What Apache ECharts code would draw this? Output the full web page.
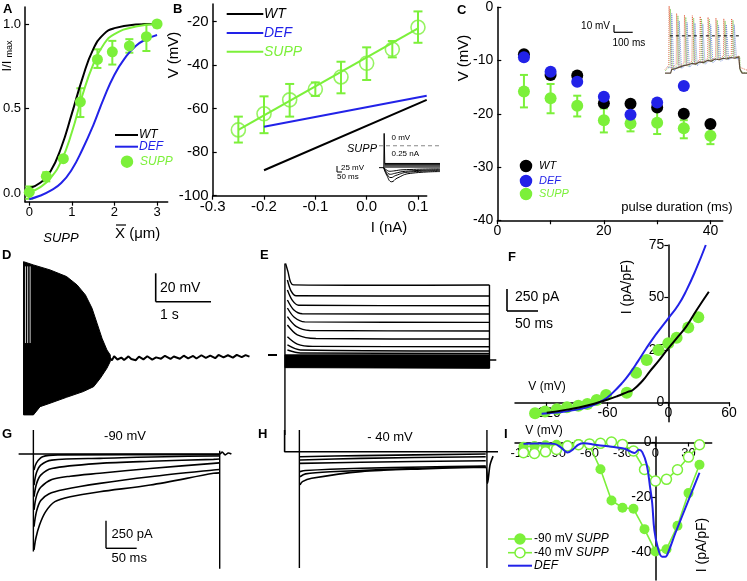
<!DOCTYPE html>
<html><head><meta charset="utf-8">
<script src="https://cdn.jsdelivr.net/npm/echarts@6/dist/echarts.min.js"></script>
<style>html,body{margin:0;padding:0;background:#fff}#c{width:747px;height:581px}</style>
</head><body><div id="c"></div>
<script>
const FONT = '"Liberation Sans", Arial, Helvetica, sans-serif';
const GREEN = '#7cf03a', BLUE = '#2222e8', BLACK = '#000';

// ---------- Panel A ----------
const aWT = [[0,0.03],[0.25,0.06],[0.5,0.13],[0.75,0.27],[1.0,0.47],[1.25,0.68],[1.5,0.85],[1.75,0.94],[2.0,0.975],[2.5,0.996],[3.0,1.0]];
const aDEF = [[0,-0.035],[0.25,-0.015],[0.5,0.015],[0.75,0.06],[1.0,0.14],[1.25,0.26],[1.5,0.40],[1.75,0.56],[2.0,0.70],[2.25,0.80],[2.5,0.87],[2.75,0.91],[3.0,0.935]];
const aSUPPfit = [[0,0.005],[0.25,0.035],[0.5,0.09],[0.75,0.19],[1.0,0.36],[1.25,0.58],[1.5,0.76],[1.75,0.88],[2.0,0.94],[2.5,0.985],[3.0,1.0]];
const aSUPPx = [0,0.4,0.8,1.2,1.6,1.95,2.35,2.75,3.0];
const aSUPPy = [0.006,0.1,0.204,0.54,0.79,0.835,0.87,0.925,1.0];
const aSUPPlo = [-0.033,0.07,0.19,0.45,0.74,0.76,0.83,0.84,0.98];
const aSUPPhi = [0.04,0.124,0.22,0.62,0.85,0.9,0.91,1.0,1.0];
const aXTicks = [0,1,2,3];

// ---------- Panel B ----------
const bI = [-0.25,-0.2,-0.15,-0.1,-0.05,0,0.05,0.1];
const bSUPP = [-69.8,-62.4,-56,-51.1,-45.5,-39.2,-32.8,-22.7];
const bSUPPlo = [-75.6,-71.3,-63.7,-54.2,-53,-46.9,-36.5,-29.8];
const bSUPPhi = [-63.7,-54.4,-48.7,-48,-38.5,-31.9,-29,-15.4];
const bWT = [[-0.2,-88.3],[0.117,-56]];
const bDEF = [[-0.2,-68.3],[0.117,-54.1]];
const bSUPPfit = [[-0.25,-69.8],[0.1,-23.2]];
const bXTicks = [-0.3,-0.2,-0.1,0,0.1];
const bYTicks = [-100,-80,-60,-40,-20];
// inset (ms, mV)
const biZero = [[0,0],[508,0]];
const biBase = [[0,-73],[40,-73]];
const biSpike = [[40,-73],[43,41],[45,41],[48,-58],[55,-60]];
const biDep1 = [[44,-59],[508,-59]];
const biDep2 = [[44,-63],[508,-63]];
const biDep3 = [[44,-67],[508,-67]];
const biDep4 = [[44,-71],[508,-71]];
const biHyp1 = [[40,-73],[60,-80],[90,-85],[120,-84],[200,-80],[508,-77]];
const biHyp2 = [[40,-73],[60,-86],[95,-95],[130,-92],[220,-85],[508,-80]];
const biHyp3 = [[40,-73],[62,-92],[100,-106],[140,-99],[240,-88],[508,-83]];
const biHyp4 = [[40,-73],[64,-98],[106,-120],[150,-108],[260,-92],[508,-86]];

// ---------- Panel C ----------
const cDur = [5,10,15,20,25,30,35,40];
const cWT = [-8.8,-12.7,-12.8,-18,-18.1,-18.8,-20,-21.9];
const cDEFx = [5,10,15,20,25,30,35];
const cDEF = [-9.4,-12.1,-14,-16.8,-20.2,-17.9,-14.8];
const cSUPP = [-15.8,-17.1,-18.5,-21.2,-21.8,-21.7,-22.7,-24.1];
const cSUPPlo = [-18.8,-19.9,-20.5,-23.5,-23.3,-23.8,-24.6,-25.7];
const cSUPPhi = [-12.7,-14.4,-16.6,-19,-20.2,-19,-21.2,-22.5];
const cXTicks = [0,20,40];
const cYTicks = [-40,-30,-20,-10,0];
// inset (ms, mV)
const ciRed = [[0,-45],[20,-40],[22,40],[34,-44],[60,-38],[62,30],[74,-42],[102,-36],[104,28],[116,-40],[144,-34],[146,27],[158,-38],[186,-32],[188,26],[200,-36],[228,-30],[230,25],[242,-34],[270,-28],[272,24],[284,-32],[312,-27],[314,23],[326,-30],[354,-26],[356,23],[368,-29],[396,-27],[398,-42],[438,-46]];
const ciGreen = [[0,-47],[27,-41],[29,36],[41,-46],[67,-39],[69,27],[81,-43],[109,-37],[111,25],[123,-41],[151,-35],[153,24],[165,-39],[193,-33],[195,23],[207,-37],[235,-31],[237,22],[249,-35],[277,-29],[279,21],[291,-33],[319,-28],[321,20],[333,-31],[361,-27],[363,21],[375,-30],[400,-28],[402,-48],[438,-50]];
const ciBlue = [[14,-42],[34,-43],[36,30],[48,-47],[74,-40],[76,20],[88,-44],[116,-38],[118,18],[130,-42],[158,-36],[160,17],[172,-40],[200,-34],[202,16],[214,-38],[242,-32],[244,15],[256,-36],[284,-30],[286,14],[298,-34],[326,-29],[328,15],[340,-32],[368,-28],[370,15],[382,-31],[396,-30]];
const ciDark = [[0,-50],[30,-50],[36,-45],[56,-44],[78,-42],[100,-40],[120,-39],[142,-37],[162,-38],[184,-35],[204,-36],[226,-33],[246,-34],[268,-31],[288,-32],[310,-30],[330,-31],[352,-29],[372,-30],[394,-28],[400,-44],[412,-50],[438,-50]];
const ciZero = [[26,0],[402,0]];

// ---------- Panel D (s, mV) ----------
const dUpper = [[0,17.3],[0.18,15],[0.48,11.5],[0.78,6.8],[0.97,0.9],[1.12,-6.1],[1.24,-15.5],[1.33,-26],[1.42,-36.6],[1.51,-44.9],[1.57,-48.4]];
const dLower = [[0,-90.6],[0.18,-90.6],[0.3,-84.8],[0.48,-82.4],[0.78,-78.2],[1.08,-74.2],[1.27,-70.7],[1.39,-64.8],[1.51,-57.7],[1.57,-53]];
const dGaps = [0.035, 0.075, 0.12];
const dBase = [[1.55,-50],[1.6,-52.2],[1.64,-49.3],[1.7,-51.6],[1.77,-50.2],[1.82,-52],[1.9,-49.4],[1.95,-51.3],[2.03,-52.1],[2.09,-49.6],[2.17,-51.5],[2.24,-49.3],[2.33,-51.7],[2.4,-50.1],[2.49,-51],[2.56,-49],[2.66,-51.2],[2.72,-49.5],[2.83,-51.1],[2.9,-48.9],[2.98,-50.8],[3.07,-49.1],[3.13,-50.9],[3.22,-48.6],[3.3,-50.4],[3.38,-48.8],[3.47,-50.7],[3.53,-48.4],[3.62,-50.1],[3.7,-48.6],[3.79,-50.3],[3.86,-48.3],[3.95,-49.9],[4.02,-48.5],[4.09,-49.6]];

// ---------- Panel E (ms, pA) ----------
const eTr1 = [[1,1090],[5,990],[9,870],[14,835],[150,830],[330,833]];
const eTr2 = [[4,893],[10,760],[18,705],[330,702]];
const eTr3 = [[4,774],[12,650],[22,592],[330,587]];
const eTr4 = [[4,655],[14,540],[28,492],[330,488]];
const eTr5 = [[4,560],[15,450],[32,395],[330,389]];
const eTr6 = [[4,456],[18,340],[40,292],[330,286]];
const eTr7 = [[4,357],[20,240],[50,196],[330,190]];
const eTr8 = [[4,218],[20,130],[45,103],[330,99]];
const eTr9 = [[4,120],[25,60],[330,48]];
const eTr10 = [[4,60],[25,25],[330,20]];
const eBandTop = [[0,2],[330,2]];
const eBandBot = [[0,-150],[330,-158]];
const eStart = [[0,1091],[0,-952]];
const eEnd = [[330,833],[330,-158]];
const eTail = [[330,-60],[341,-60]];

// ---------- Panel F (mV, pA/pF) ----------
const fDEF = [[-125,-5.5],[-113,-5],[-90,-3.5],[-75,-1.5],[-64,1],[-55,4.5],[-45,9.5],[-38,13.8],[-30,19.5],[-22,25.5],[-15,30.5],[-8,35],[0,40],[10,46.5],[18,53.5],[27,63],[37,75]];
const fWT = [[-120,-5],[-100,-3.5],[-80,-1.5],[-62,1],[-50,3],[-40,5],[-35,5.9],[-25,10.5],[-18,14.9],[-10,19.5],[0,25.7],[10,31.5],[18,36.3],[28,44],[40,52.7]];
const fSUPPv = [-131.5,-121.6,-110,-100,-88.8,-79.9,-70.7,-61.4,-41,-31.8,-21.3,-9.8,0,8.2,19.7,29.6];
const fSUPPi = [-5.2,-4.4,-3.3,-2.4,-1.6,-0.8,1.1,3.5,4.6,14.1,20.2,24.9,28.1,30.8,35.7,40.5];
const fXTicks = [-120,-60,0,60];
const fYTicks = [0,25,50,75];

// ---------- Panel G (ms, pA) ----------
const gBase = [[-24,0],[303,0],[307,18],[312,-8],[317,10],[322,0]];
const gTr1 = [[1,-144],[5,-80],[15,-25],[40,-8],[303,-5]];
const gTr2 = [[1,-280],[5,-170],[12,-100],[30,-55],[108,-39],[293,-18],[303,-18]];
const gTr3 = [[1,-385],[5,-270],[12,-190],[30,-130],[108,-84],[190,-65],[293,-48],[303,-45]];
const gTr4 = [[1,-505],[5,-380],[12,-300],[30,-230],[60,-200],[108,-174],[190,-130],[293,-84],[303,-80]];
const gTr5 = [[1,-656],[5,-520],[12,-420],[25,-360],[50,-320],[108,-265],[190,-205],[293,-144],[303,-140]];
const gTr6 = [[1,-866],[4,-760],[10,-640],[20,-520],[35,-430],[60,-385],[108,-340],[190,-280],[293,-174],[303,-170]];
const gStart = [[0,217],[0,-880]];
const gEnd = [[303,30],[303,-1035]];

// ---------- Panel H (ms, pA) ----------
const hProto = [[-24,196],[-24,0],[323,0]];
const hTr1 = [[1,-45],[100,-35],[303,-21]];
const hTr2 = [[1,-75],[100,-60],[303,-45]];
const hTr3 = [[1,-105],[100,-95],[303,-81]];
const hTr4 = [[1,-180],[10,-170],[100,-150],[200,-138],[303,-129]];
const hTr5 = [[1,-226],[10,-200],[50,-181],[200,-150],[303,-135]];
const hTr6 = [[1,-300],[5,-270],[20,-240],[100,-180],[200,-155],[303,-140],[306,-284],[310,-120],[315,-40]];
const hStart = [[0,196],[0,-1050]];
const hEnd = [[305,196],[305,-1050]];

// ---------- Panel I (mV, pA/pF) ----------
const iV = [-120,-110,-100,-90,-80,-70,-60,-50,-40,-30,-20,-10,0,10,20,30,40];
const iSUPP90 = [-1.5,-1.3,-1,-0.8,-1,-0.5,-1,-9.7,-21.1,-23.7,-24.1,-31.5,-39.6,-38.8,-30.3,-18.4,-8.1];
const iSUPP40 = [-3.7,-4,-3.4,-2.5,-1.3,-0.8,-0.5,-0.3,0.2,-0.7,-3.1,-9.8,-14,-13.4,-9.9,-5.3,-0.8];
const iDEF = [[-120,-0.5],[-110,-0.4],[-100,-0.4],[-92,-0.5],[-86,-1.8],[-80,-3.6],[-75,-2.5],[-70,-0.8],[-65,-0.3],[-55,-0.8],[-45,-1.3],[-35,-1.8],[-28,-2.3],[-22,-3.4],[-19,-3.8],[-15,-2.6],[-12,-3.5],[-8,-8],[-5,-16],[-3,-22],[-1,-32],[2,-38],[6,-41.5],[9,-41.5],[12,-39.5],[18,-33],[25,-26],[32,-19],[40,-11]];
const iXTicks = [-120,-90,-60,-30,0,30];
const iYTicks = [-40,-20,0];

// ================= build =================
const zip = (xs, ys) => xs.map((x, i) => [x, ys[i]]);
const grids = [
  {left:25, top:7, width:142.7, height:194.7},        // 0 A
  {left:212.7, top:4, width:214, height:191.7},       // 1 B
  {left:379, top:128, width:61, height:58},           // 2 B inset
  {left:497.3, top:7.3, width:225.4, height:213},     // 3 C
  {left:665, top:3, width:82, height:75},             // 4 C inset
  {left:18, top:255, width:237, height:165},          // 5 D
  {left:262, top:258, width:238, height:177},         // 6 E
  {left:515, top:245, width:214.3, height:176.7},     // 7 F
  {left:18, top:430, width:214, height:140},          // 8 G
  {left:284, top:430, width:214, height:140},         // 9 H
  {left:515, top:437, width:196.7, height:143},       // 10 I
  {left:25, top:23.93, width:142.7, height:169.3}     // 11 A tick-label axis (0..1)
];
function axis(g, min, max, labels, ticks, fs, fmt, offset, inside) {
  return {gridIndex:g, type:'value', min:min, max:max, offset:offset || 0, splitLine:{show:false},
    axisLine:{show:true, onZero:false, lineStyle:{color:'#000', width:1.5}},
    axisTick:{show:true, inside:!!inside, length:4, customValues:ticks, lineStyle:{color:'#000', width:1.2}},
    axisLabel:{customValues:labels, color:'#000', fontSize:fs, fontFamily:FONT, margin:4, formatter:fmt}};
}
function hid(g, min, max) { return {gridIndex:g, type:'value', min:min, max:max, show:false}; }
const f1 = v => Number(v).toFixed(1);
const f0 = v => String(v);
const xAxis = [
  axis(0, -0.1, 3.25, aXTicks, aXTicks, 13, f0, 0),
  axis(1, -0.3, 0.117, bXTicks, bXTicks, 15, f1, 0),
  hid(2, 0, 508),
  axis(3, 0, 42.3, cXTicks, [0,10,20,30,40], 14, f0, 0),
  hid(4, 0, 438),
  hid(5, -0.1, 4.19),
  hid(6, -37, 347),
  axis(7, -151.3, 60.2, fXTicks, fXTicks, 14, f0, -19.4),
  hid(8, -25, 323),
  hid(9, -25, 323),
  axis(10, -127.7, 51.1, iXTicks, iXTicks, 13, f0, -137.5),
  hid(11, 0, 1)
];
const yAxis = [
  {gridIndex:0, type:'value', min:-0.05, max:1.1, splitLine:{show:false}, axisTick:{show:false}, axisLabel:{show:false},
    axisLine:{show:true, onZero:false, lineStyle:{color:'#000', width:1.5}}},
  axis(1, -100, -12, bYTicks, bYTicks, 15, f0, 0, true),
  hid(2, -134, 59),
  axis(3, -40, 0, cYTicks, cYTicks, 14, f0, 0, true),
  hid(4, -56.5, 44),
  hid(5, -94.2, 22),
  hid(6, -952, 1155),
  axis(7, -9.25, 75, fYTicks, fYTicks, 14, f0, -153.3),
  hid(8, -1047, 217),
  hid(9, -1068, 196),
  axis(10, -50, 2, iYTicks, iYTicks, 14, f0, -140.5),
  {gridIndex:11, type:'value', min:0, max:1, interval:0.5, splitLine:{show:false}, axisLine:{show:false, onZero:false},
    axisTick:{show:true, inside:true, length:4, lineStyle:{color:'#000', width:1.2}},
    axisLabel:{color:'#000', fontSize:13, fontFamily:FONT, margin:4, formatter:f1}}
];

const S = [];
function line(g, data, color, w, extra) {
  S.push(Object.assign({type:'line', xAxisIndex:g, yAxisIndex:g, data:data, showSymbol:false, symbol:'none',
    lineStyle:{color:color, width:w}, itemStyle:{color:color}, silent:true, z:3}, extra || {}));
}
function scat(g, data, color, size, open, z) {
  S.push({type:'scatter', xAxisIndex:g, yAxisIndex:g, data:data, symbol:'circle', symbolSize:size, silent:true, z:z||4,
    itemStyle: open ? {color:'rgba(255,255,255,0)', borderColor:color, borderWidth:1.6} : {color:color, opacity:1}});
}
function err(g, xs, lo, hi, color, cap, z) {
  S.push({type:'custom', xAxisIndex:g, yAxisIndex:g, data:xs.map((x,i)=>[x, lo[i], hi[i]]), encode:{x:0, y:[1,2]}, silent:true, z:z||3,
    renderItem:function(p, api){
      const x = api.value(0);
      const a = api.coord([x, api.value(1)]), b = api.coord([x, api.value(2)]);
      const st = {stroke:color, lineWidth:2};
      return {type:'group', children:[
        {type:'line', shape:{x1:a[0], y1:a[1], x2:b[0], y2:b[1]}, style:st},
        {type:'line', shape:{x1:a[0]-cap, y1:a[1], x2:a[0]+cap, y2:a[1]}, style:st},
        {type:'line', shape:{x1:b[0]-cap, y1:b[1], x2:b[0]+cap, y2:b[1]}, style:st}]};
    }});
}
function band(g, upper, lower, color) {
  S.push({type:'custom', xAxisIndex:g, yAxisIndex:g, data:[upper[0]], encode:{x:0, y:1}, silent:true, z:3,
    renderItem:function(p, api){
      const pts = upper.map(q=>api.coord(q)).concat(lower.slice().reverse().map(q=>api.coord(q)));
      return {type:'polygon', shape:{points:pts}, style:{fill:color, stroke:color, lineWidth:1}};
    }});
}

// A
line(0, aWT, BLACK, 2, {smooth:true});
line(0, aDEF, BLUE, 2, {smooth:true});
line(0, aSUPPfit, GREEN, 2, {smooth:true});
err(0, aSUPPx, aSUPPlo, aSUPPhi, GREEN, 4);
scat(0, zip(aSUPPx, aSUPPy), GREEN, 11);
// B
line(1, bWT, BLACK, 2);
line(1, bDEF, BLUE, 2);
line(1, bSUPPfit, GREEN, 2.2);
err(1, bI, bSUPPlo, bSUPPhi, GREEN, 4.5);
scat(1, zip(bI, bSUPP), GREEN, 14, true);
// B inset
line(2, biZero, '#888', 1.2, {lineStyle:{color:'#888', width:1.2, type:[4,3]}});
[biBase, biSpike, biDep1, biDep2, biDep3, biDep4].forEach(d => line(2, d, BLACK, 1));
[biHyp1, biHyp2, biHyp3, biHyp4].forEach(d => line(2, d, BLACK, 1, {smooth:true}));
// C
err(3, cDur, cSUPPlo, cSUPPhi, GREEN, 4, 3);
scat(3, zip(cDur, cSUPP), GREEN, 12, false, 4);
scat(3, zip(cDur, cWT), BLACK, 12, false, 5);
scat(3, zip(cDEFx, cDEF), BLUE, 12, false, 6);
// C inset
line(4, ciRed, '#e0502a', 1, {lineStyle:{color:'#e0502a', width:1, type:'dotted', opacity:0.8}});
line(4, ciGreen, '#6cc040', 1, {lineStyle:{color:'#6cc040', width:1, type:'dotted', opacity:0.8}});
line(4, ciBlue, '#6078d8', 1, {lineStyle:{color:'#6078d8', width:1, type:'dotted', opacity:0.8}});
line(4, ciDark, '#5a4a3a', 1.2);
line(4, ciZero, BLACK, 1, {lineStyle:{color:'#000', width:1, type:[3,3]}});
// D
band(5, dUpper, dLower, BLACK);
S.push({type:'custom', xAxisIndex:5, yAxisIndex:5, data:dGaps.map(t=>[t, 14, -40]), encode:{x:0, y:[1,2]}, silent:true, z:4,
  renderItem:function(p, api){
    const a = api.coord([api.value(0), api.value(1)]), b = api.coord([api.value(0), api.value(2)]);
    return {type:'line', shape:{x1:a[0], y1:a[1], x2:b[0], y2:b[1]}, style:{stroke:'#fff', lineWidth:0.8}};
  }});
line(5, dBase, BLACK, 2);
// E
band(6, eBandTop, eBandBot, BLACK);
[eTr1, eTr2, eTr3, eTr4, eTr5, eTr6, eTr7, eTr8, eTr9, eTr10].forEach(d => line(6, d, BLACK, 1.4, {smooth:0.3}));
[eStart, eEnd, eTail].forEach(d => line(6, d, BLACK, 1.4));
// F
scat(7, zip(fSUPPv, fSUPPi), GREEN, 12, false, 3);
line(7, fDEF, BLUE, 2, {smooth:true, z:5});
line(7, fWT, BLACK, 2, {smooth:true, z:6});
// G
[gBase, gTr1, gTr2, gTr3, gTr4, gTr5, gTr6].forEach(d => line(8, d, BLACK, 1.6, {smooth:0.3}));
[gStart, gEnd].forEach(d => line(8, d, BLACK, 1.4));
// H
line(9, hProto, BLACK, 1.6);
[hTr1, hTr2, hTr3, hTr4, hTr5, hTr6].forEach(d => line(9, d, BLACK, 1.6, {smooth:0.3}));
[hStart, hEnd].forEach(d => line(9, d, BLACK, 1.4));
// I
S.push({type:'line', xAxisIndex:10, yAxisIndex:10, data:zip(iV, iSUPP90), symbol:'circle', symbolSize:10, showSymbol:true,
  lineStyle:{color:GREEN, width:1.6}, itemStyle:{color:GREEN}, silent:true, z:3});
S.push({type:'line', xAxisIndex:10, yAxisIndex:10, data:zip(iV, iSUPP40), symbol:'circle', symbolSize:10, showSymbol:true,
  lineStyle:{color:GREEN, width:1.6}, itemStyle:{color:'#fff', borderColor:GREEN, borderWidth:1.5}, silent:true, z:4});
line(10, iDEF, BLUE, 2, {smooth:0.4, z:5});

// ---------- graphics (labels, legends, scale bars) ----------
const G = [];
function T(x, y, text, o) {
  G.push({type:'text', x:x, y:y, rotation:(o && o.rot) || 0, silent:true, z:100,
    style:Object.assign({text:text, fill:'#000', fontFamily:FONT, fontSize:13, align:'left', verticalAlign:'middle'}, o && o.st)});
}
function L(x1, y1, x2, y2, c, w, dash) {
  G.push({type:'line', silent:true, z:100, shape:{x1:x1, y1:y1, x2:x2, y2:y2}, style:{stroke:c || '#000', lineWidth:w || 1.5, lineDash:dash}});
}
function C(cx, cy, r, fill, stroke) {
  G.push({type:'circle', silent:true, z:100, shape:{cx:cx, cy:cy, r:r}, style:{fill:fill, stroke:stroke, lineWidth:1.5}});
}
const bold = {fontWeight:'bold', fontSize:13, verticalAlign:'top'};
T(3, 3, 'A', {st:bold}); T(173, 3, 'B', {st:bold}); T(457, 4, 'C', {st:bold});
T(2, 249, 'D', {st:bold}); T(260, 249, 'E', {st:bold}); T(508, 251, 'F', {st:bold});
T(2, 428, 'G', {st:bold}); T(258, 428, 'H', {st:bold}); T(504, 428, 'I', {st:bold});
// A axis titles
T(7, 66, 'I/I', {rot:Math.PI/2, st:{align:'center', fontSize:13}});
T(10, 49, 'max', {rot:Math.PI/2, st:{align:'center', fontSize:9}});
T(115, 234, 'X (\u03bcm)', {st:{fontSize:15}});
L(116, 225, 126, 225, '#000', 1.2);
// A legend
L(115, 135, 138, 135, BLACK, 2); T(139, 135, 'WT', {st:{fontStyle:'italic', fontSize:12}});
L(115, 146.7, 138, 146.7, BLUE, 2); T(139, 146.7, 'DEF', {st:{fontStyle:'italic', fontSize:12, fill:BLUE}});
C(127, 161.7, 5.5, GREEN, GREEN); T(140, 161.7, 'SUPP', {st:{fontStyle:'italic', fontSize:12, fill:GREEN}});
// B titles & legend
T(174, 55, 'V (mV)', {rot:Math.PI/2, st:{align:'center', fontSize:15}});
T(389, 228, 'I (nA)', {st:{align:'center', fontSize:15}});
L(226.7, 14, 263.3, 14, BLACK, 2); T(264, 14, 'WT', {st:{fontStyle:'italic', fontSize:14}});
L(226.7, 33, 263.3, 33, BLUE, 2); T(264, 33, 'DEF', {st:{fontStyle:'italic', fontSize:14, fill:BLUE}});
L(226.7, 51.7, 263.3, 51.7, GREEN, 2); T(264, 51.7, 'SUPP', {st:{fontStyle:'italic', fontSize:14, fill:GREEN}});
// B inset text
T(362, 149, 'SUPP', {st:{align:'center', fontStyle:'italic', fontSize:11}});
T(391.5, 138, '0 mV', {st:{fontSize:8}});
T(391.5, 154, '0.25 nA', {st:{fontSize:8}});
L(337, 166, 337, 172, '#000', 1); L(337, 172, 342, 172, '#000', 1);
T(341, 168, '25 mV', {st:{fontSize:8}});
T(337, 177, '50 ms', {st:{fontSize:8}});
// C titles & legend
T(464, 58, 'V (mV)', {rot:Math.PI/2, st:{align:'center', fontSize:15}});
T(677, 207, 'pulse duration (ms)', {st:{align:'center', fontSize:13}});
C(526, 166, 5.5, BLACK, BLACK); T(539, 166, 'WT', {st:{fontStyle:'italic', fontSize:11}});
C(526, 181, 5.5, BLUE, BLUE); T(539, 181, 'DEF', {st:{fontStyle:'italic', fontSize:11, fill:BLUE}});
C(526, 194, 5.5, GREEN, GREEN); T(539, 194, 'SUPP', {st:{fontStyle:'italic', fontSize:11, fill:GREEN}});
// C inset scale
T(610, 26, '10 mV', {st:{align:'right', fontSize:10}});
L(614, 25, 614, 32.3, '#000', 1.2); L(614, 32.3, 632.7, 32.3, '#000', 1.2);
T(612.5, 43, '100 ms', {st:{fontSize:10}});
// D
T(61, 238, 'SUPP', {st:{align:'center', fontStyle:'italic', fontSize:13}});
L(155.7, 273.3, 155.7, 301.7, '#000', 1.6); L(155.7, 301.7, 211, 301.7, '#000', 1.6);
T(160, 288, '20 mV', {st:{fontSize:14}});
T(160, 315, '1 s', {st:{fontSize:14}});
// E
L(268, 355, 277, 355, '#000', 2);
L(507, 289, 507, 311, '#000', 1.6); L(507, 311, 538, 311, '#000', 1.6);
T(515, 297.5, '250 pA', {st:{fontSize:14}});
T(515, 324, '50 ms', {st:{fontSize:14}});
// F titles
T(547, 387, 'V (mV)', {st:{align:'center', fontSize:12}});
T(627, 287, 'I (pA/pF)', {rot:Math.PI/2, st:{align:'center', fontSize:14}});
// G
T(125, 436, '-90 mV', {st:{align:'center', fontSize:13}});
L(106, 520.7, 106, 548.3, '#000', 1.4); L(106, 548.3, 136.7, 548.3, '#000', 1.4);
T(111.5, 534, '250 pA', {st:{fontSize:13}});
T(111.5, 558, '50 ms', {st:{fontSize:13}});
// H
T(390, 437, '- 40 mV', {st:{align:'center', fontSize:13}});
// I titles & legend
T(544, 431, 'V (mV)', {st:{align:'center', fontSize:12}});
T(702, 545, 'I (pA/pF)', {rot:Math.PI/2, st:{align:'center', fontSize:14}});
L(508, 539, 532, 539, GREEN, 1.6); C(520, 539, 5, GREEN, GREEN);
T(534, 539, '{a|-90 mV }{b|SUPP}', {st:{fontSize:12, rich:{a:{fontSize:12, fontFamily:FONT}, b:{fontSize:12, fontFamily:FONT, fontStyle:'italic'}}}});
L(508, 552.7, 532, 552.7, GREEN, 1.6); C(520, 552.7, 5, '#fff', GREEN);
T(534, 552.7, '{a|-40 mV }{b|SUPP}', {st:{fontSize:12, rich:{a:{fontSize:12, fontFamily:FONT}, b:{fontSize:12, fontFamily:FONT, fontStyle:'italic'}}}});
L(508, 565.7, 532, 565.7, BLUE, 2);
T(534, 565.7, 'DEF', {st:{fontStyle:'italic', fontSize:12}});

const chart = echarts.init(document.getElementById('c'), null, {renderer:'canvas'});
chart.setOption({animation:false, backgroundColor:'#fff', grid:grids, xAxis:xAxis, yAxis:yAxis, series:S, graphic:{elements:G}});
</script></body></html>
